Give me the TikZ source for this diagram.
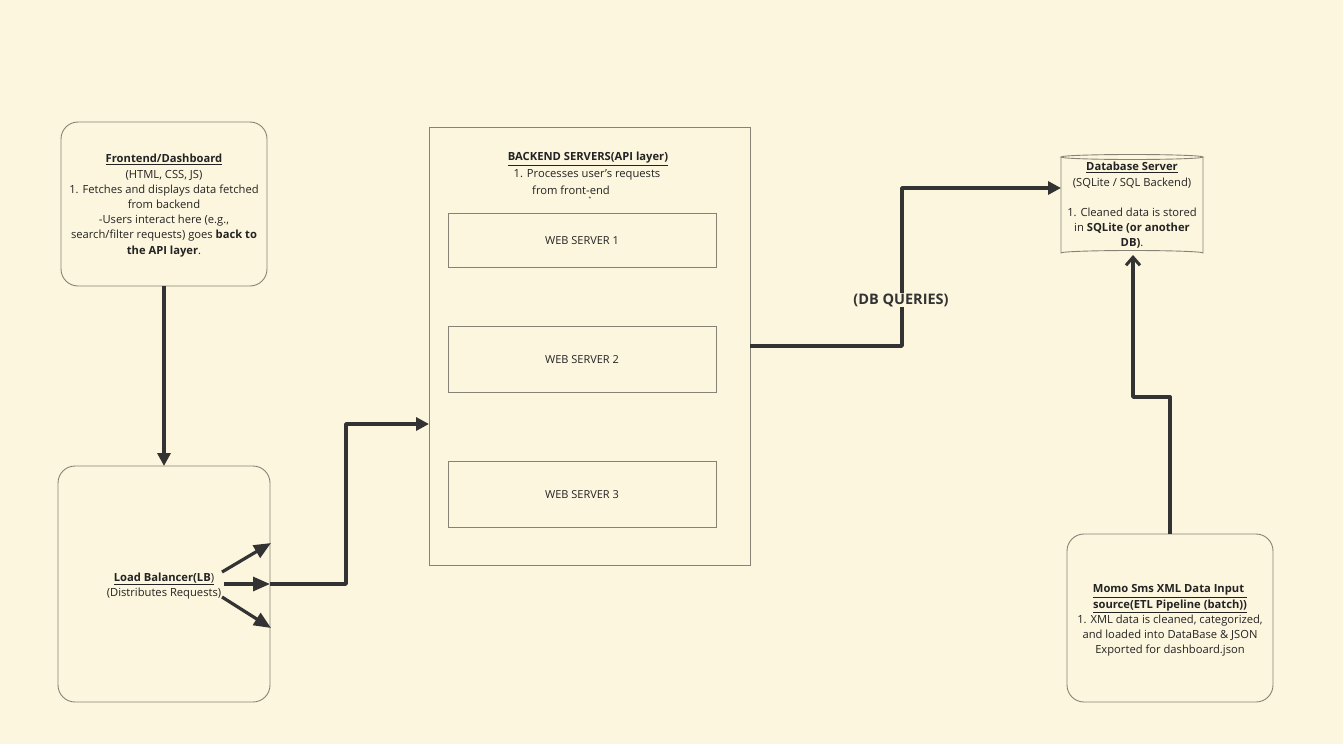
\documentclass[tikz,border=0pt]{standalone}
\usepackage{fontspec}
\setmainfont{Open Sans}
\usetikzlibrary{arrows.meta}
\definecolor{bg}{RGB}{252,246,222}
\definecolor{edge}{RGB}{135,130,118}
\definecolor{ink}{RGB}{51,51,51}
\definecolor{txt}{RGB}{35,35,35}
\begin{document}
\begin{tikzpicture}[x=1pt,y=-1pt,
  box/.style={draw=edge,line width=0.9pt,rounded corners=17pt},
  sqbox/.style={draw=edge,line width=0.9pt},
  body/.style={font=\fontsize{11.2}{15.2}\selectfont,text=txt,align=center,inner sep=0pt},
  wslabel/.style={font=\fontsize{11}{13}\selectfont,text=txt},
  conn/.style={draw=ink,line width=3.8pt,line join=round,-{Triangle[length=13pt,width=13pt]}},
  lbarrow/.style={draw=ink,line width=3.2pt,-{Triangle[length=17pt,width=14pt]}}
]
\fill[bg] (0,0) rectangle (1343,744);
\useasboundingbox (0,0) rectangle (1343,744);

% boxes
\draw[box] (61,122) rectangle (267,286);
\coordinate (feb) at (164,286);
\draw[box] (58,466) rectangle (270,702);
\coordinate (lbt) at (164,466);
\draw[sqbox] (429,127) rectangle (750,565);
\draw[sqbox] (448,213) rectangle (716,267);
\draw[sqbox] (448,326) rectangle (716,392);
\draw[sqbox] (448,461) rectangle (716,527);
\draw[box] (1067,534) rectangle (1273,702);

% database cylinder
\draw[edge,line width=0.9pt,fill=bg] (1061,157) -- (1061,253) arc[start angle=180,end angle=360,x radius=71,y radius=2.5] -- (1203,157);
\draw[edge,line width=0.9pt] (1132,157) ellipse[x radius=71,y radius=2.5];

% texts
\node[body] (fe) at (164,205.5) {\textbf{\underline{Frontend/Dashboard}}\\(HTML, CSS, JS)\\1. Fetches and displays data fetched\\from backend\\-Users interact here (e.g.,\\search/filter requests) goes \textbf{back to}\\\textbf{the API layer}.};
\node[body] (lb) at (164,586) {\underline{\textbf{Load Balancer(LB})}\\(Distributes Requests)};
\node[body] (be1) at (588,159) {\textbf{\underline{BACKEND SERVERS(API layer)}}};
\node[body] (be2) at (587,174.5) {1. Processes user's requests};
\node[body] (be3) at (571,190) {from front-end};
\node[font=\fontsize{5}{5}\selectfont,text=txt,inner sep=0pt] (dot) at (590,199) {*};
\node[wslabel] (ws1) at (582,241) {WEB SERVER 1};
\node[wslabel] (ws2) at (582,360) {WEB SERVER 2};
\node[wslabel] (ws3) at (582,495) {WEB SERVER 3};
\node[body] (db) at (1132,205.5) {\textbf{\underline{Database Server}}\\(SQLite / SQL Backend)\\[15.2pt]1. Cleaned data is stored\\in \textbf{SQLite (or another}\\\textbf{DB)}.};
\node[body] (mm) at (1170,620.5) {\textbf{\underline{Momo Sms XML Data Input\ }}\\\textbf{\underline{source(ETL Pipeline (batch))}}\\1. XML data is cleaned, categorized,\\and loaded into DataBase \& JSON\\Exported for dashboard.json};

% coordinates
\coordinate (lbr) at (270,584);
\coordinate (bel) at (429,424);
\coordinate (ber) at (750,346);
\coordinate (dbl) at (1061,188);
\coordinate (dbb) at (1133,255);
\coordinate (mmt) at (1170,534);
\coordinate (la1) at (222,572);
\coordinate (la2) at (224,584);
\coordinate (la3) at (222,597);
\coordinate (lh1) at (271,543);
\coordinate (lh3) at (271,628);

% connectors
\draw[conn] (feb) -- (lbt);
\draw[conn] (lbr) -- (346,584) -- (346,424) -- (bel);
\draw[conn] (ber) -- (902,346) -- (902,188) -- (dbl);
\draw[draw=ink,line width=3.8pt,line join=round,-{Straight Barb[length=8pt,width=14pt,line width=3pt]}] (mmt) -- (1170,397) -- (1133,397) -- (dbb);

\draw[lbarrow] (la1) -- (lh1);
\draw[lbarrow] (la2) -- (lbr);
\draw[lbarrow] (la3) -- (lh3);

\node[fill=bg,font=\fontsize{14.5}{16}\selectfont\bfseries,text=ink,inner sep=1pt] (q) at (901,300) {(DB QUERIES)};
\end{tikzpicture}
\end{document}
